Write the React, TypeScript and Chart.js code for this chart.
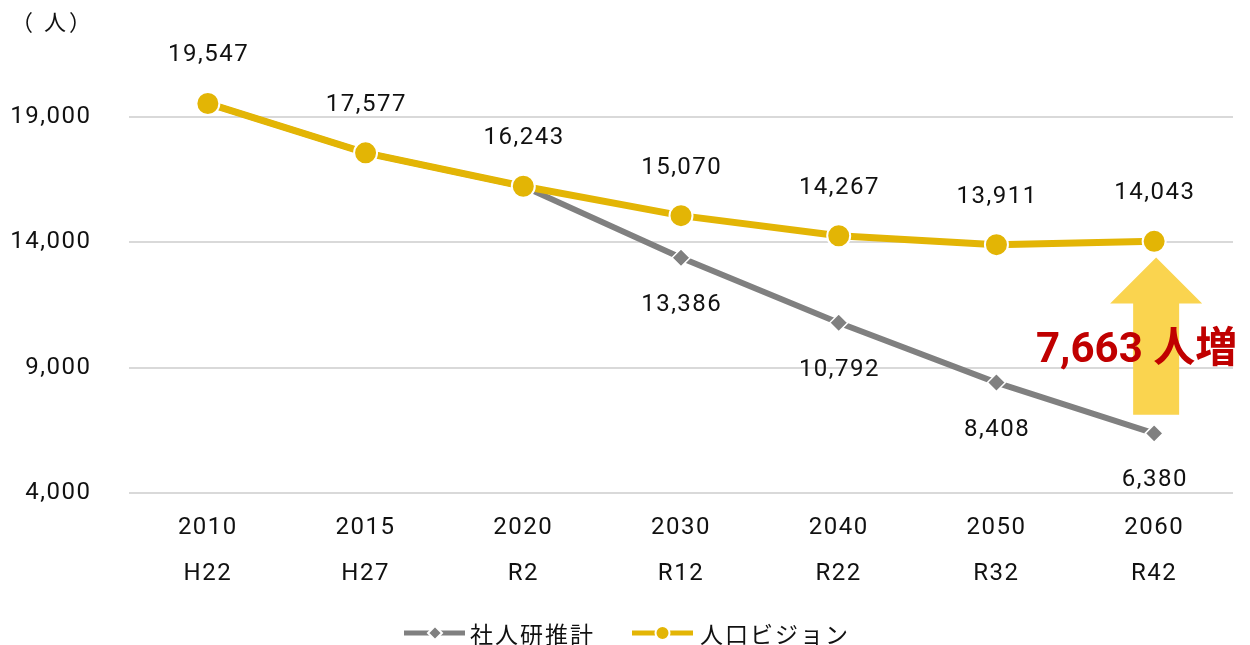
import React, { useEffect, useRef } from 'react';
import { Chart, registerables } from 'chart.js';

Chart.register(...registerables);

const categories = ['2010', '2015', '2020', '2030', '2040', '2050', '2060'];
const eraLabels = ['H22', 'H27', 'R2', 'R12', 'R22', 'R32', 'R42'];
const ipssValues = [19547, 17577, 16243, 13386, 10792, 8408, 6380];
const visionValues = [19547, 17577, 16243, 15070, 14267, 13911, 14043];
const yTicks = [4000, 9000, 14000, 19000];
const ipssLabelFrom = 3;
const ipssName = '社人研推計';
const visionName = '人口ビジョン';
const unitLabel = '（ 人）';
const increaseText = '7,663 人増';
const arrowTipValue = 13400;
const arrowBaseValue = 7120;

const GRAY = '#808080';
const YELLOW = '#E3B505';
const ARROW = '#FAD44F';
const RED = '#C00000';
const TEXT = '#111111';
const NUM_FAMILY = 'Roboto, "Noto Sans CJK JP", sans-serif';
const NUM_FONT = '24px ' + NUM_FAMILY;
const JP_FONT = '"Noto Sans CJK JP", sans-serif';
const SPACING = 1.5;

const fmt = (v: number) => v.toLocaleString('en-US');

const customPlugin = {
  id: 'custom',
  beforeDraw(chart: any) {
    chart.ctx.letterSpacing = SPACING + 'px';
  },
  afterDatasetsDraw(chart: any) {
    const ctx = chart.ctx as CanvasRenderingContext2D;
    const xs = chart.scales.x;
    const ys = chart.scales.y;
    ctx.save();
    // arrow
    const ax = xs.getPixelForValue(6);
    const tip = ys.getPixelForValue(arrowTipValue);
    const base = ys.getPixelForValue(arrowBaseValue);
    ctx.fillStyle = ARROW;
    ctx.beginPath();
    ctx.moveTo(ax + 2, tip);
    ctx.lineTo(ax + 48, tip + 46);
    ctx.lineTo(ax + 25, tip + 46);
    ctx.lineTo(ax + 25, base);
    ctx.lineTo(ax - 21, base);
    ctx.lineTo(ax - 21, tip + 46);
    ctx.lineTo(ax - 44, tip + 46);
    ctx.closePath();
    ctx.fill();

    // red text
    (ctx as any).letterSpacing = '0px';
    ctx.font = 'bold 42px Roboto, "Noto Sans CJK JP", sans-serif';
    ctx.fillStyle = RED;
    ctx.textAlign = 'left';
    ctx.textBaseline = 'alphabetic';
    ctx.fillText(increaseText, 1036, 362);

    // data labels
    (ctx as any).letterSpacing = SPACING + 'px';
    ctx.font = NUM_FONT;
    ctx.fillStyle = TEXT;
    ctx.textAlign = 'center';
    ctx.textBaseline = 'middle';
    visionValues.forEach((v, i) => {
      const px = xs.getPixelForValue(i);
      const py = ys.getPixelForValue(v);
      ctx.fillText(fmt(v), px + SPACING / 2, py - 48);
    });
    ipssValues.forEach((v, i) => {
      if (i < ipssLabelFrom) return;
      const px = xs.getPixelForValue(i);
      const py = ys.getPixelForValue(v);
      ctx.fillText(fmt(v), px + SPACING / 2, py + 47);
    });
    ctx.restore();
  },
  afterDraw(chart: any) {
    const ctx = chart.ctx as CanvasRenderingContext2D;
    ctx.save();
    // unit label
    (ctx as any).letterSpacing = '3px';
    ctx.font = '22px ' + JP_FONT;
    ctx.fillStyle = TEXT;
    ctx.textAlign = 'left';
    ctx.textBaseline = 'middle';
    ctx.fillText(unitLabel, 11, 22);

    // legend
    const ly = 633;
    ctx.lineCap = 'butt';
    ctx.strokeStyle = GRAY;
    ctx.lineWidth = 5;
    ctx.beginPath();
    ctx.moveTo(404, ly);
    ctx.lineTo(465, ly);
    ctx.stroke();
    ctx.fillStyle = GRAY;
    ctx.strokeStyle = '#ffffff';
    ctx.lineWidth = 2;
    ctx.beginPath();
    ctx.moveTo(435, ly - 7);
    ctx.lineTo(442, ly);
    ctx.lineTo(435, ly + 7);
    ctx.lineTo(428, ly);
    ctx.closePath();
    ctx.fill();
    ctx.stroke();

    ctx.strokeStyle = YELLOW;
    ctx.lineWidth = 5;
    ctx.beginPath();
    ctx.moveTo(632, ly);
    ctx.lineTo(693, ly);
    ctx.stroke();
    ctx.fillStyle = YELLOW;
    ctx.strokeStyle = '#ffffff';
    ctx.lineWidth = 2;
    ctx.beginPath();
    ctx.arc(662.5, ly, 7, 0, Math.PI * 2);
    ctx.fill();
    ctx.stroke();

    (ctx as any).letterSpacing = '2px';
    ctx.font = '23px ' + JP_FONT;
    ctx.fillStyle = TEXT;
    ctx.textAlign = 'left';
    ctx.fillText(ipssName, 470, ly + 1);
    ctx.fillText(visionName, 700, ly + 1);
    ctx.restore();
    (ctx as any).letterSpacing = '0px';
  },
};

export default function App() {
  const ref = useRef<HTMLCanvasElement | null>(null);
  useEffect(() => {
    document.body.style.margin = '0';
    const canvas = ref.current;
    if (!canvas) return;
    const chart = new Chart(canvas, {
      type: 'line',
      data: {
        labels: categories,
        datasets: [
          {
            label: visionName,
            data: visionValues,
            borderColor: YELLOW,
            backgroundColor: YELLOW,
            borderWidth: 7,
            pointStyle: 'circle',
            pointRadius: 11.5,
            pointBackgroundColor: YELLOW,
            pointBorderColor: '#ffffff',
            pointBorderWidth: 2,
            tension: 0,
          },
          {
            label: ipssName,
            data: ipssValues,
            borderColor: GRAY,
            backgroundColor: GRAY,
            borderWidth: 6,
            pointStyle: 'rectRot',
            pointRadius: 9,
            pointBackgroundColor: GRAY,
            pointBorderColor: '#ffffff',
            pointBorderWidth: 1.5,
            tension: 0,
          },
        ],
      },
      options: {
        responsive: false,
        animation: false,
        layout: { padding: { top: 42, right: 17, left: 0, bottom: 0 } },
        plugins: {
          legend: { display: false },
          tooltip: { enabled: false },
        },
        scales: {
          x: {
            offset: true,
            grid: { display: false, drawTicks: false },
            border: { display: false },
            afterFit: (s: any) => {
              s.height = 152;
              s.paddingLeft = 0;
              s.paddingRight = 0;
            },
            ticks: {
              padding: 12,
              maxRotation: 0,
              autoSkip: false,
              color: TEXT,
              font: { family: NUM_FAMILY, size: 24, lineHeight: 46 / 24 },
              callback: (_v: any, i: number) => [categories[i], eraLabels[i]],
            },
          },
          y: {
            min: 4000,
            max: 22000,
            afterFit: (s: any) => {
              s.width = 129;
              s.paddingTop = 0;
              s.paddingBottom = 0;
            },
            afterBuildTicks: (s: any) => {
              s.ticks = yTicks.map((v) => ({ value: v }));
            },
            grid: { color: '#D9D9D9', lineWidth: 2, drawTicks: false },
            border: { display: false },
            ticks: {
              padding: 37.5,
              color: TEXT,
              font: { family: NUM_FAMILY, size: 24 },
              callback: (v: any) => fmt(Number(v)),
            },
          },
        },
      },
      plugins: [customPlugin],
    });
    return () => chart.destroy();
  }, []);
  return (
    <div style={{ width: 1250, height: 645 }}>
      <canvas ref={ref} width={1250} height={645} />
    </div>
  );
}
